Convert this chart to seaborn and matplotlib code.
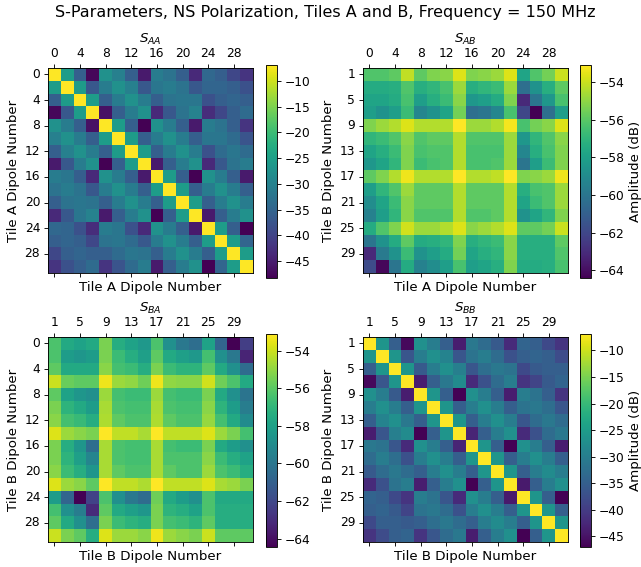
import matplotlib
matplotlib.use("Agg")
import matplotlib.pyplot as plt
import pandas as pd
import seaborn as sns

# NS-polarised dipoles: tile A uses the even dipole numbers, tile B the odd ones
tile_a_dipoles = [0, 2, 4, 6, 8, 10, 12, 14, 16, 18, 20, 22, 24, 26, 28, 30]
tile_b_dipoles = [1, 3, 5, 7, 9, 11, 13, 15, 17, 19, 21, 23, 25, 27, 29, 31]

# S-parameter amplitudes in dB at 150 MHz
s_aa = [
    [-6.9, -25.5, -36.0, -47.5, -27.5, -30.5, -36.0, -45.5, -31.0, -32.5, -36.0, -43.5, -34.5, -36.0, -39.5, -42.0],
    [-25.5, -6.9, -25.5, -37.0, -31.0, -27.5, -30.5, -37.0, -32.0, -31.0, -32.5, -37.0, -35.0, -35.0, -36.0, -38.0],
    [-36.0, -25.5, -6.9, -25.5, -36.0, -31.0, -27.5, -31.0, -36.0, -32.5, -32.0, -32.0, -38.0, -36.0, -35.0, -36.0],
    [-47.5, -37.0, -25.5, -6.9, -46.5, -36.0, -31.0, -27.5, -43.5, -37.0, -32.5, -30.0, -43.0, -39.5, -36.0, -34.0],
    [-27.5, -31.0, -36.0, -46.5, -6.9, -25.5, -36.0, -48.3, -27.5, -31.0, -36.0, -45.5, -31.0, -32.5, -36.0, -42.0],
    [-30.5, -27.5, -31.0, -36.0, -25.5, -6.9, -25.5, -36.0, -31.0, -27.5, -31.0, -36.0, -32.0, -32.0, -34.0, -37.5],
    [-36.0, -30.5, -27.5, -31.0, -36.0, -25.5, -6.9, -25.5, -36.0, -31.0, -27.5, -31.0, -38.0, -34.0, -32.0, -34.0],
    [-45.5, -37.0, -31.0, -27.5, -48.3, -36.0, -25.5, -6.9, -45.5, -36.0, -31.0, -27.5, -43.5, -37.0, -32.5, -31.0],
    [-31.0, -32.0, -36.0, -43.5, -27.5, -31.0, -36.0, -45.5, -6.9, -25.5, -36.0, -48.3, -27.5, -31.0, -36.0, -45.5],
    [-32.5, -31.0, -32.5, -37.0, -31.0, -27.5, -31.0, -36.0, -25.5, -6.9, -25.5, -36.0, -31.0, -27.5, -31.0, -36.0],
    [-36.0, -32.5, -32.0, -32.5, -36.0, -31.0, -27.5, -31.0, -36.0, -25.5, -6.9, -25.5, -36.0, -31.0, -27.5, -31.0],
    [-43.5, -37.0, -32.0, -30.0, -45.5, -36.0, -31.0, -27.5, -48.3, -36.0, -25.5, -6.9, -45.5, -36.0, -31.0, -27.5],
    [-34.5, -35.0, -38.0, -43.0, -31.0, -32.0, -38.0, -43.5, -27.5, -31.0, -36.0, -45.5, -6.9, -25.5, -36.0, -48.3],
    [-36.0, -35.0, -36.0, -39.5, -32.5, -32.0, -34.0, -37.0, -31.0, -27.5, -31.0, -36.0, -25.5, -6.9, -25.5, -35.0],
    [-39.5, -36.0, -35.0, -36.0, -36.0, -34.0, -32.0, -32.5, -36.0, -31.0, -27.5, -31.0, -36.0, -25.5, -6.9, -25.5],
    [-42.0, -38.0, -36.0, -34.0, -42.0, -37.5, -34.0, -31.0, -45.5, -36.0, -31.0, -27.5, -48.3, -35.0, -25.5, -6.9],
]

# rows: tile B dipoles, columns: tile A dipoles
s_ab = [
    [-56.2, -56.2, -55.9, -54.2, -55.9, -55.3, -55.1, -53.7, -55.3, -55.1, -54.8, -53.7, -57.8, -56.2, -55.5, -54.0],
    [-57.5, -57.5, -57.3, -56.2, -57.3, -57.0, -56.4, -54.8, -57.3, -57.0, -56.7, -54.8, -60.3, -58.7, -57.3, -55.9],
    [-57.8, -57.8, -57.5, -56.4, -58.1, -57.3, -56.7, -55.1, -58.4, -58.1, -57.5, -55.3, -63.1, -60.0, -58.4, -56.4],
    [-58.1, -58.7, -58.1, -56.7, -59.2, -58.7, -57.8, -55.5, -60.3, -60.0, -59.2, -56.4, -62.0, -64.4, -60.3, -58.1],
    [-55.3, -54.8, -54.4, -53.7, -54.4, -54.4, -54.4, -53.1, -54.8, -54.8, -54.4, -53.3, -56.4, -55.5, -55.1, -53.7],
    [-57.0, -56.7, -56.2, -55.1, -56.2, -55.9, -55.9, -54.4, -56.2, -56.2, -56.2, -54.8, -58.4, -57.0, -56.2, -55.1],
    [-57.8, -57.3, -56.7, -55.3, -56.4, -56.2, -56.2, -54.4, -56.4, -56.4, -56.4, -54.8, -59.2, -57.3, -56.4, -55.3],
    [-58.4, -57.8, -57.0, -55.3, -56.7, -56.4, -56.2, -54.4, -56.4, -56.4, -56.2, -54.8, -60.0, -58.1, -56.7, -55.3],
    [-55.9, -55.3, -54.4, -53.4, -54.4, -54.4, -54.4, -53.1, -54.4, -54.4, -54.2, -53.1, -55.3, -55.1, -54.8, -53.4],
    [-58.1, -57.0, -56.2, -54.8, -55.9, -55.9, -55.9, -54.4, -55.9, -55.9, -55.9, -54.4, -57.3, -56.4, -56.2, -54.8],
    [-58.9, -57.8, -56.7, -55.1, -55.9, -55.9, -55.9, -54.4, -55.9, -55.9, -55.9, -54.4, -57.8, -56.7, -56.2, -54.8],
    [-59.5, -58.1, -57.0, -55.1, -56.2, -56.2, -56.2, -54.4, -56.2, -56.2, -55.9, -54.4, -58.7, -57.8, -57.0, -55.3],
    [-57.5, -56.2, -55.3, -53.9, -54.8, -54.8, -54.4, -53.7, -55.1, -54.8, -54.4, -53.7, -55.9, -55.9, -55.5, -54.0],
    [-60.0, -58.7, -57.5, -55.9, -57.5, -57.3, -57.0, -55.3, -57.3, -57.0, -56.7, -55.1, -57.3, -57.3, -57.3, -55.9],
    [-63.1, -59.8, -58.7, -56.7, -58.7, -58.1, -57.5, -55.5, -57.8, -57.3, -57.0, -55.1, -57.3, -57.3, -57.3, -56.2],
    [-61.8, -64.2, -60.0, -57.5, -59.5, -58.9, -58.1, -56.4, -58.1, -57.8, -57.3, -55.3, -57.5, -57.5, -57.3, -56.4],
]

# rows: tile A dipoles, columns: tile B dipoles
s_ba = [
    [-56.3, -57.6, -57.9, -57.6, -55.4, -57.4, -57.9, -58.4, -56.3, -58.8, -59.9, -60.4, -57.9, -60.8, -64.45, -62.4],
    [-56.3, -58.2, -58.5, -58.2, -55.4, -56.7, -57.4, -58.1, -55.9, -57.6, -58.1, -58.4, -56.5, -58.8, -59.9, -63.3],
    [-55.9, -57.6, -57.6, -57.6, -55.1, -56.5, -56.7, -57.4, -55.4, -56.7, -57.1, -57.1, -55.9, -57.6, -58.8, -60.5],
    [-54.0, -55.7, -55.9, -55.9, -53.4, -54.8, -55.0, -55.6, -53.4, -55.0, -55.1, -55.1, -53.9, -55.6, -56.3, -57.6],
    [-55.9, -57.9, -58.5, -58.8, -54.8, -56.5, -56.7, -56.7, -54.8, -56.5, -56.7, -56.7, -55.4, -57.6, -58.8, -60.1],
    [-55.4, -57.1, -57.6, -58.2, -54.6, -56.3, -56.5, -56.5, -54.6, -56.3, -56.5, -56.5, -55.1, -57.1, -58.2, -59.7],
    [-55.1, -56.5, -56.8, -57.4, -54.5, -55.9, -56.3, -56.3, -54.5, -55.9, -56.3, -56.3, -54.9, -56.5, -57.6, -59.0],
    [-53.7, -54.8, -55.1, -55.4, -53.1, -54.2, -54.2, -54.6, -53.1, -54.2, -54.2, -54.2, -53.7, -54.8, -55.4, -56.5],
    [-55.4, -57.4, -58.5, -60.4, -54.6, -56.3, -56.5, -56.5, -54.6, -56.5, -56.7, -56.7, -55.4, -57.6, -58.2, -58.8],
    [-55.4, -57.1, -58.1, -59.3, -54.6, -56.3, -56.5, -56.5, -54.6, -56.3, -56.3, -56.3, -55.1, -56.7, -57.4, -57.9],
    [-55.1, -56.7, -57.4, -58.5, -54.6, -55.9, -56.3, -56.3, -54.6, -55.9, -56.3, -56.3, -54.8, -56.3, -56.7, -57.4],
    [-53.7, -54.8, -55.1, -55.9, -53.1, -54.2, -54.2, -54.5, -53.1, -54.2, -54.2, -54.2, -53.7, -54.6, -54.8, -55.4],
    [-58.2, -60.8, -64.45, -62.2, -56.3, -58.8, -59.9, -60.5, -55.6, -57.6, -58.2, -58.8, -56.3, -57.6, -57.6, -57.6],
    [-56.5, -58.8, -59.7, -63.1, -55.9, -57.6, -58.1, -58.5, -55.4, -57.1, -57.4, -57.9, -56.3, -57.4, -57.4, -57.4],
    [-55.9, -57.6, -58.8, -60.4, -55.4, -56.7, -57.1, -57.4, -55.4, -56.5, -56.7, -57.1, -55.9, -57.4, -57.4, -57.4],
    [-54.0, -55.4, -55.9, -57.4, -53.7, -54.8, -54.8, -55.1, -53.4, -54.8, -55.1, -55.4, -54.0, -55.9, -55.9, -55.9],
]

s_bb = [
    [-6.9, -26.1, -35.0, -46.2, -27.0, -30.2, -35.0, -43.8, -31.0, -33.0, -35.8, -42.2, -34.2, -35.0, -38.2, -41.0],
    [-26.1, -6.9, -26.1, -36.2, -30.2, -27.0, -29.0, -36.2, -31.8, -30.2, -33.0, -37.0, -35.0, -34.2, -35.0, -37.8],
    [-35.0, -26.1, -6.9, -26.1, -35.8, -30.2, -27.0, -29.8, -36.2, -32.6, -31.0, -31.8, -38.2, -35.8, -35.0, -35.0],
    [-46.2, -36.2, -26.1, -6.9, -43.8, -35.0, -31.0, -27.8, -42.2, -37.0, -33.0, -30.2, -41.0, -39.0, -35.8, -34.2],
    [-27.0, -30.2, -35.8, -43.8, -6.9, -26.1, -35.0, -47.0, -27.0, -30.2, -35.0, -43.8, -30.2, -31.8, -35.0, -41.0],
    [-30.2, -27.0, -30.2, -35.0, -26.1, -6.9, -26.1, -35.0, -30.2, -27.0, -30.2, -35.0, -31.8, -31.0, -32.6, -36.2],
    [-35.0, -29.0, -27.0, -31.0, -35.0, -26.1, -6.9, -26.1, -35.0, -30.2, -27.0, -30.2, -36.2, -33.0, -31.0, -33.0],
    [-43.8, -36.2, -29.8, -27.8, -47.0, -35.0, -26.1, -6.9, -43.0, -35.0, -30.2, -27.0, -42.2, -37.0, -33.0, -31.0],
    [-31.0, -31.8, -36.2, -42.2, -27.0, -30.2, -35.0, -43.0, -6.9, -26.1, -35.0, -47.0, -27.0, -30.2, -35.0, -43.8],
    [-33.0, -30.2, -32.6, -37.0, -30.2, -27.0, -30.2, -35.0, -26.1, -6.9, -26.1, -35.0, -30.2, -27.0, -30.2, -35.0],
    [-35.8, -33.0, -31.0, -33.0, -35.0, -30.2, -27.0, -30.2, -35.0, -26.1, -6.9, -26.1, -35.0, -30.2, -27.8, -30.2],
    [-42.2, -37.0, -31.8, -30.2, -43.8, -35.0, -30.2, -27.0, -47.0, -35.0, -26.1, -6.9, -44.2, -35.0, -30.2, -27.0],
    [-34.2, -35.0, -38.2, -41.0, -30.2, -31.8, -36.2, -42.2, -27.0, -30.2, -35.0, -44.2, -6.9, -26.1, -35.0, -47.0],
    [-35.0, -34.2, -35.8, -39.0, -31.8, -31.0, -33.0, -37.0, -30.2, -27.0, -30.2, -35.0, -26.1, -6.9, -26.1, -35.0],
    [-38.2, -35.0, -35.0, -35.8, -35.0, -32.6, -31.0, -33.0, -35.0, -30.2, -27.8, -30.2, -35.0, -26.1, -6.9, -26.1],
    [-41.0, -37.8, -35.0, -34.2, -41.0, -36.2, -33.0, -31.0, -43.8, -35.0, -30.2, -27.0, -47.0, -35.0, -26.1, -6.9],
]

self_ticks = [-10, -15, -20, -25, -30, -35, -40, -45]
mutual_ticks = [-54, -56, -58, -60, -62, -64]

W, H = 641, 567
DPI = 80
fig = plt.figure(figsize=(W / DPI, H / DPI), dpi=DPI)

LABEL_SIZE = 12
TICK_SIZE = 11
SUPTITLE_SIZE = 14.4


def frac(x0, y0, w, h):
    """Pixel box (left, top, width, height) -> figure fraction rect."""
    return [x0 / W, 1 - (y0 + h) / H, w / W, h / H]


panels = [
    # data, rows, cols, title, xlabel, ylabel, ticks, cbar label, axes box, cbar box
    (s_aa, tile_a_dipoles, tile_a_dipoles, r"$S_{AA}$", "Tile A Dipole Number",
     "Tile A Dipole Number", self_ticks, None, (48, 68), (266, 65)),
    (s_ab, tile_b_dipoles, tile_a_dipoles, r"$S_{AB}$", "Tile A Dipole Number",
     "Tile B Dipole Number", mutual_ticks, "Amplitude (dB)", (363, 68), (580, 65)),
    (s_ba, tile_a_dipoles, tile_b_dipoles, r"$S_{BA}$", "Tile B Dipole Number",
     "Tile B Dipole Number", mutual_ticks, None, (48, 337), (266, 334)),
    (s_bb, tile_b_dipoles, tile_b_dipoles, r"$S_{BB}$", "Tile B Dipole Number",
     "Tile B Dipole Number", self_ticks, "Amplitude (dB)", (363, 337), (580, 334)),
]

for data, rows, cols, title, xlabel, ylabel, cticks, clabel, apos, cpos in panels:
    ax = fig.add_axes(frac(apos[0], apos[1], 205, 205))
    cax = fig.add_axes(frac(cpos[0], cpos[1], 11, 213))
    df = pd.DataFrame(data, index=rows, columns=cols)
    sns.heatmap(df, ax=ax, cbar_ax=cax, cmap="viridis",
                xticklabels=2, yticklabels=2)

    for spine in ax.spines.values():
        spine.set_visible(True)
        spine.set_linewidth(0.8)
    ax.tick_params(axis="x", top=True, labeltop=True, bottom=True,
                   labelbottom=False, labelrotation=0, labelsize=TICK_SIZE)
    ax.tick_params(axis="y", left=True, labelleft=True, labelrotation=0,
                   labelsize=TICK_SIZE)
    ax.set_title(title, fontsize=LABEL_SIZE, pad=3.5)
    ax.set_xlabel(xlabel, fontsize=LABEL_SIZE)
    ax.set_ylabel(ylabel, fontsize=LABEL_SIZE)

    cb = ax.collections[0].colorbar
    cb.outline.set_visible(True)
    cb.outline.set_linewidth(0.8)
    cb.set_ticks(cticks)
    cb.ax.tick_params(labelsize=TICK_SIZE)
    if clabel:
        cb.set_label(clabel, fontsize=LABEL_SIZE)

fig.suptitle("S-Parameters, NS Polarization, Tiles A and B, Frequency = 150 MHz",
             x=0.507, y=1 - 5 / H, va="top", fontsize=SUPTITLE_SIZE)

fig.savefig("out.png", dpi=DPI)
